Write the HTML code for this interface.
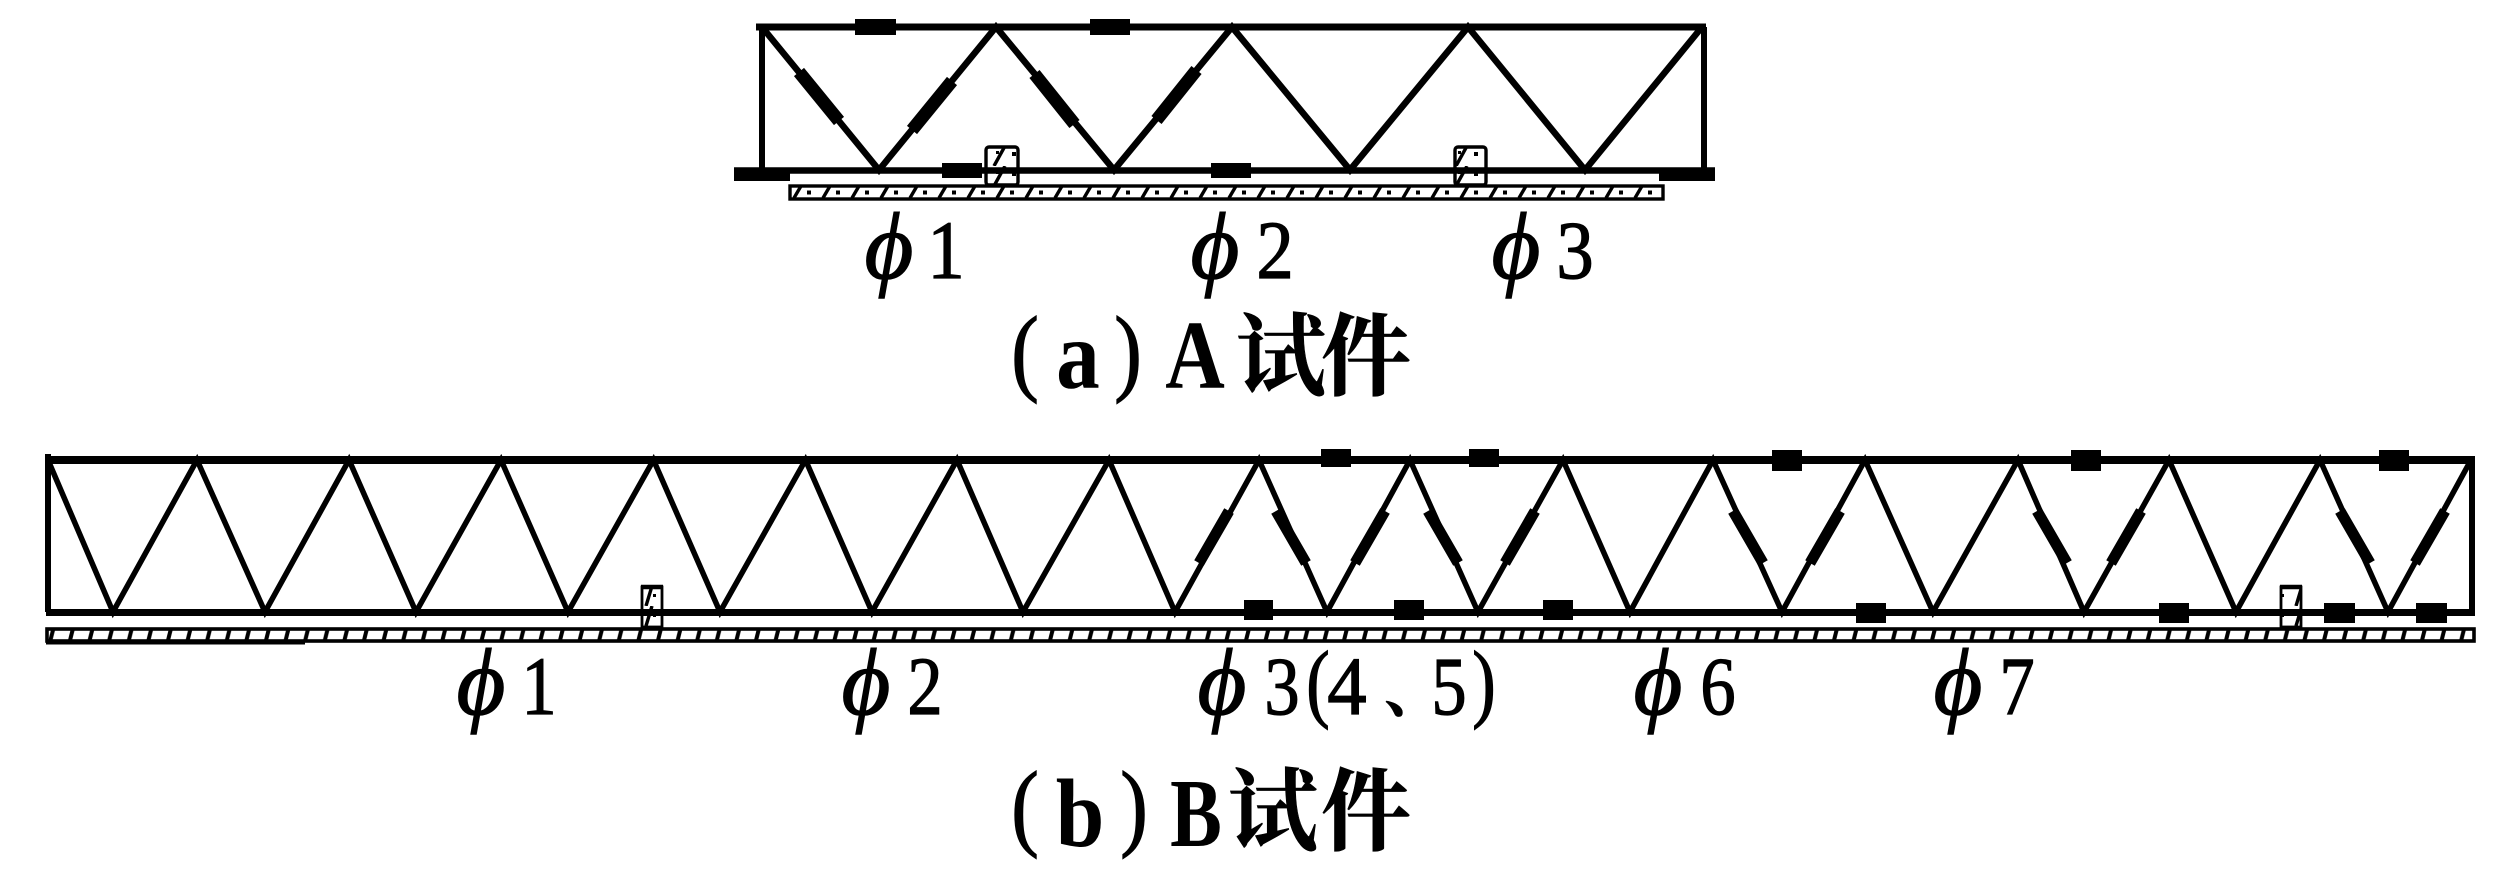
<!DOCTYPE html>
<html><head><meta charset="utf-8"><style>
html,body{margin:0;padding:0;background:#fff;width:2520px;height:873px;overflow:hidden}
svg{display:block}
text{fill:#000;stroke:#000;text-anchor:middle;font-family:"Liberation Serif","Noto Serif CJK SC",serif}
.d{font-size:83px;stroke-width:1.2px}
.p{font-size:94px;font-style:italic;stroke-width:1.4px}
.q{font-size:92px;stroke-width:1.200px}
.t{font-size:97px;font-weight:bold;stroke-width:0}
.c{font-size:90px;font-weight:bold;stroke-width:.6px;font-family:"Noto Serif CJK SC","Noto Sans CJK SC",serif}
</style></head><body>
<svg width="2520" height="873" viewBox="0 0 2520 873" xmlns="http://www.w3.org/2000/svg">
<defs>
<pattern id="ha" x="790" y="186" width="29" height="12" patternUnits="userSpaceOnUse">
<path d="M4 12L11 0" stroke="#000" stroke-width="3.400"/><rect x="17" y="4.500" width="4" height="4" fill="#000"/>
</pattern>
<pattern id="hb" x="46" y="630" width="19.6" height="12" patternUnits="userSpaceOnUse">
<path d="M4 12L7 0" stroke="#000" stroke-width="4"/>
</pattern>
<pattern id="hx" x="0" y="146" width="33" height="20" patternUnits="userSpaceOnUse">
<path d="M4 20L15 0" stroke="#000" stroke-width="3.400"/><rect x="22" y="6" width="4" height="4" fill="#000"/><rect x="6" y="5" width="3" height="3" fill="#000"/>
</pattern>
<pattern id="hy" x="0" y="586" width="22" height="20" patternUnits="userSpaceOnUse">
<path d="M8 20L14 0" stroke="#000" stroke-width="3.400"/><rect x="15" y="8" width="3" height="3" fill="#000"/>
</pattern>
</defs>

<!-- Truss A -->
<rect x="790" y="186" width="873" height="13" fill="#fff" stroke="#000" stroke-width="3.400"/>
<rect x="790" y="186" width="873" height="13" fill="url(#ha)"/>
<g stroke="#000" fill="none">
<path d="M756 27H1706" stroke-width="7"/>
<path d="M734 170.500H1715" stroke-width="6.500"/>
<path d="M762 27V170M1704 27V170" stroke-width="6"/>
<path d="M762 27L879 170L996 27L1114 170L1232 27L1350 170L1468 27L1585 170L1702 27" stroke-width="6.500"/>
<path d="M799 72L839 121M952 81L912 130M1034.500 74L1074.500 124M1196.500 70L1156.500 120" stroke-width="13"/>
</g>
<g fill="#000">
<rect x="734" y="169" width="56" height="12"/><rect x="1659" y="169" width="56" height="12"/>
<rect x="855" y="19" width="41" height="16"/><rect x="1090" y="19" width="40" height="16"/>
<rect x="942" y="163" width="40" height="15"/><rect x="1211" y="163" width="40" height="15"/>
</g>
<g stroke="#000" stroke-width="3.400">
<rect x="986" y="147" width="32" height="38" rx="3" fill="#fff"/><rect x="986" y="147" width="32" height="38" fill="url(#hx)" stroke="none"/>
<rect x="1455" y="147" width="31" height="38" rx="3" fill="#fff"/><rect x="1455" y="147" width="31" height="38" fill="url(#hx)" stroke="none"/>
</g>
<path d="M985 170.500H1019M1454 170.500H1487" stroke="#000" stroke-width="6.500"/>

<!-- Truss A labels -->
<text class="p" transform="translate(889,278)">ϕ</text>
<text class="d" transform="translate(946,278) scale(.9,1)">1</text>
<text class="p" transform="translate(1215,278)">ϕ</text>
<text class="d" transform="translate(1275,278) scale(.9,1)">2</text>
<text class="p" transform="translate(1516,278)">ϕ</text>
<text class="d" transform="translate(1575,278) scale(.9,1)">3</text>
<text class="q" transform="translate(1025,383) scale(.9,1.050)">(</text>
<text class="t" transform="translate(1078,388) scale(.9,1)">a</text>
<text class="q" transform="translate(1128,383) scale(.9,1.050)">)</text>
<text class="t" transform="translate(1195,388) scale(.85,1)">A</text>
<text class="c" transform="translate(1281,388)">试</text>
<text class="c" transform="translate(1366,388)">件</text>

<!-- Truss B -->
<rect x="47" y="629" width="2427" height="12" fill="#fff" stroke="#000" stroke-width="3.600"/>
<rect x="47" y="629" width="2427" height="12" fill="url(#hb)"/>
<rect x="46" y="641" width="259" height="3.500" fill="#000"/>
<g stroke="#000" fill="none">
<path d="M46 460H2475" stroke-width="8"/>
<path d="M46 612.500H2475" stroke-width="7"/>
<path d="M48 454V612M2472 460V612" stroke-width="6"/>
<path d="M48 460L113 612L197 460L265 612L349 460L416 612L501 460L568 612L653.500 460L720 612L805.500 460L872 612L957 460L1023 612L1109 460L1175 612L1259 460L1327 612L1410 460L1478 612L1563 460L1630 612L1713 460L1782 612L1865 460L1933 612L2018 460L2084 612L2169 460L2236 612L2320 460L2388 612L2471 460" stroke-width="5.500"/>
<path d="M1199 563L1229 511M1276 511L1306 563M1355 563L1385 511M1428 511L1458 563M1505 563L1535 511M1733 511L1763 563M1810 563L1840 511M2037 511L2067 563M2111 563L2141 511M2340 511L2370 563M2415 563L2445 511" stroke-width="11"/>
</g>
<g fill="#000">
<rect x="1321" y="449" width="30" height="18"/><rect x="1469" y="449" width="30" height="18"/>
<rect x="1772" y="450" width="30" height="21"/><rect x="2071" y="450" width="30" height="21"/><rect x="2379" y="450" width="30" height="21"/>
<rect x="1244" y="600" width="29" height="20"/><rect x="1394" y="600" width="30" height="20"/><rect x="1543" y="600" width="30" height="20"/>
<rect x="1856" y="603" width="30" height="20"/><rect x="2159" y="603" width="30" height="20"/><rect x="2324" y="603" width="31" height="20"/><rect x="2416" y="603" width="31" height="20"/>
</g>
<g stroke="#000" stroke-width="2.800">
<rect x="642" y="587" width="20" height="40" fill="#fff"/><rect x="642" y="587" width="20" height="40" fill="url(#hy)" stroke="none"/>
<rect x="2281" y="587" width="20" height="40" fill="#fff"/><rect x="2281" y="587" width="20" height="40" fill="url(#hy)" stroke="none"/>
</g>
<path d="M641 587H663M2280 587H2302" stroke="#000" stroke-width="4.500"/>
<path d="M641 612.500H663M2280 612.500H2302" stroke="#000" stroke-width="7"/>

<!-- Truss B labels -->
<text class="p" transform="translate(481,714)">ϕ</text>
<text class="d" transform="translate(539,714) scale(.85,1)">1</text>
<text class="p" transform="translate(866,714)">ϕ</text>
<text class="d" transform="translate(925,714) scale(.85,1)">2</text>
<text class="p" transform="translate(1222,714)">ϕ</text>
<text class="d" transform="translate(1282,714) scale(.85,1)">3</text>
<text class="d" transform="translate(1318,711) scale(.85,1.050)">(</text>
<text class="d" transform="translate(1347,714) scale(.95,1)">4</text>
<text class="c" style="font-size:60px;font-weight:bold" transform="translate(1414,712)">、</text>
<text class="d" transform="translate(1449,714) scale(.85,1)">5</text>
<text class="d" transform="translate(1484,711) scale(.85,1.050)">)</text>
<text class="p" transform="translate(1658,714)">ϕ</text>
<text class="d" transform="translate(1718,714) scale(.85,1)">6</text>
<text class="p" transform="translate(1958,714)">ϕ</text>
<text class="d" transform="translate(2017,714) scale(.85,1)">7</text>
<text class="q" transform="translate(1025,838) scale(.9,1.050)">(</text>
<text class="t" transform="translate(1080,846) scale(.9,1)">b</text>
<text class="q" transform="translate(1134,838) scale(.9,1.050)">)</text>
<text class="t" transform="translate(1196,846) scale(.8,1)">B</text>
<text class="c" transform="translate(1273,843)">试</text>
<text class="c" transform="translate(1366,843)">件</text>
</svg>
</body></html>
